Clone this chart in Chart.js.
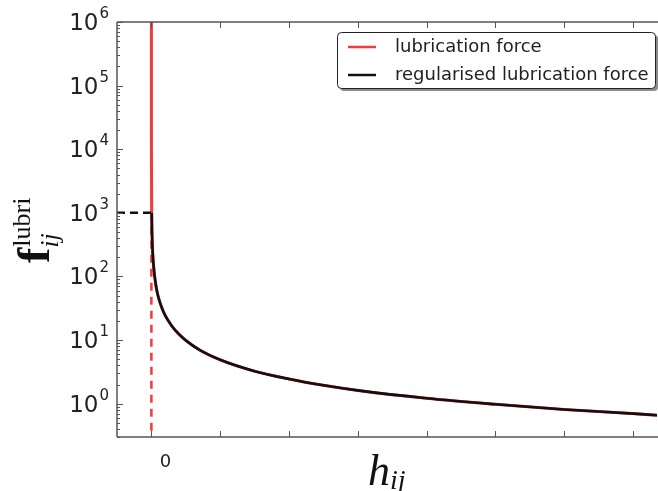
<!DOCTYPE html>
<html>
<head>
<meta charset="utf-8">
<script src="https://cdn.jsdelivr.net/npm/chart.js@4.4.0/dist/chart.umd.min.js"></script>
<style>
  html, body { margin: 0; padding: 0; background: #fff; }
</style>
</head>
<body>
<canvas id="myChart" width="658" height="491"></canvas>
<script>
// gap h (one unit per x tick) and lubrication force along the curve
const gapH = [0.0046, 0.01, 0.02, 0.04, 0.07, 0.1, 0.15, 0.2, 0.3, 0.4, 0.5, 0.7, 1, 1.5, 2, 2.5, 3, 4, 5, 6, 7, 7.35];
const forceF = [1000, 430, 225, 118, 68, 48, 32.5, 24.5, 16.5, 12.4, 9.9, 7.0, 4.9, 3.25, 2.45, 1.95, 1.62, 1.22, 0.98, 0.81, 0.70, 0.66];
// unregularised branch above the cap
const steepH = [0.000005, 0.00005, 0.0005];
const steepF = [1000000, 100000, 10000];
const capF = 1000;

const xTicks = [0, 1, 2, 3, 4, 5, 6, 7];
const xTickLabels = ['0', '', '', '', '', '', '', ''];
const yDecades = [0, 1, 2, 3, 4, 5, 6];
const xRange = [-0.5, 7.35];
const yRange = [0.3, 1e6];

const RED = '#ef3b3b';
const BLACK = '#111111';
const AXIS = '#555555';

function pts(xs, ys) {
    return xs.map((x, i) => ({ x: x, y: ys[i] }));
}

const redLine = pts(steepH, steepF).concat(pts(gapH, forceF));
const blackLine = pts(gapH, forceF);

const datasets = [
    {
        label: 'lubrication force',
        data: redLine,
        borderColor: RED,
        borderWidth: 3,
        cubicInterpolationMode: 'monotone',
        order: 3,
        inLegend: true
    },
    {
        label: 'regularised lubrication force',
        data: blackLine,
        borderColor: BLACK,
        borderWidth: 2.6,
        cubicInterpolationMode: 'monotone',
        order: 1,
        inLegend: true
    },
    {
        label: 'cap',
        data: [{ x: xRange[0], y: capF }, { x: 0, y: capF }],
        borderColor: BLACK,
        borderWidth: 2.5,
        borderDash: [8, 5],
        order: 2
    },
    {
        label: 'contact',
        data: [{ x: 0, y: capF }, { x: 0, y: yRange[0] }],
        borderColor: RED,
        borderWidth: 2.5,
        borderDash: [8, 6],
        order: 2
    }
];

// spines, inward ticks, log labels, axis titles and boxed legend
const framePlugin = {
    id: 'frame',
    afterDatasetsDraw(chart) {
        const c = chart.ctx;
        const a = chart.chartArea;
        const sx = chart.scales.x;
        const sy = chart.scales.y;
        c.save();
        c.strokeStyle = AXIS;
        c.lineWidth = 1.5;
        c.beginPath();
        c.moveTo(a.left, a.top); c.lineTo(a.right + 2, a.top);
        c.moveTo(a.left, a.top); c.lineTo(a.left, a.bottom);
        c.moveTo(a.left, a.bottom); c.lineTo(a.right + 2, a.bottom);
        c.stroke();

        c.lineWidth = 1;
        c.beginPath();
        xTicks.forEach(v => {
            const px = Math.round(sx.getPixelForValue(v)) + 0.5;
            c.moveTo(px, a.bottom); c.lineTo(px, a.bottom - 6);
            c.moveTo(px, a.top); c.lineTo(px, a.top + 6);
        });
        for (let e = -1; e <= 6; e++) {
            for (let m = 1; m <= 9; m++) {
                const v = m * Math.pow(10, e);
                if (v < yRange[0] - 1e-9 || v > yRange[1] + 1e-9) continue;
                const py = Math.round(sy.getPixelForValue(v)) + 0.5;
                c.moveTo(a.left, py); c.lineTo(a.left + (m === 1 ? 6 : 3), py);
            }
        }
        c.stroke();

        // y tick labels 10^n
        c.fillStyle = '#222';
        c.textBaseline = 'alphabetic';
        yDecades.forEach(e => {
            const py = sy.getPixelForValue(Math.pow(10, e));
            const sup = String(e);
            c.font = '15px "DejaVu Sans"';
            const supW = c.measureText(sup).width;
            c.textAlign = 'right';
            c.fillText(sup, a.left - 8, py - 4);
            c.font = '23px "DejaVu Sans"';
            c.fillText('10', a.left - 8 - supW - 1, py + 8);
        });

        // y title f_ij^lubri
        c.save();
        c.translate(49, 263);
        c.rotate(-Math.PI / 2);
        c.textAlign = 'left';
        c.fillStyle = '#111';
        c.font = 'bold 46px "Liberation Serif"';
        c.fillText('f', 0, 0);
        const fW = c.measureText('f').width;
        c.font = '26px "Liberation Serif"';
        c.fillText('lubri', fW + 1, -19);
        c.font = 'italic 26px "Liberation Serif"';
        c.fillText('ij', fW, 9);
        c.restore();

        // x title h_ij
        c.textAlign = 'left';
        c.fillStyle = '#111';
        c.font = 'italic 44px "Liberation Serif"';
        c.fillText('h', 368, 485);
        const hW = c.measureText('h').width;
        c.font = 'italic 28px "Liberation Serif"';
        c.fillText('ij', 368 + hW, 489);

        // legend
        const lx = 337, ly = 32, lw = 318, lh = 56;
        c.fillStyle = 'rgba(0,0,0,0.45)';
        c.beginPath();
        c.roundRect(lx + 3, ly + 3, lw, lh, 4);
        c.fill();
        c.fillStyle = '#fff';
        c.strokeStyle = '#222';
        c.lineWidth = 1;
        c.beginPath();
        c.roundRect(lx + 0.5, ly + 0.5, lw, lh, 4);
        c.fill();
        c.stroke();
        c.font = '18px "DejaVu Sans"';
        c.textBaseline = 'middle';
        chart.data.datasets.filter(d => d.inLegend).forEach((d, i) => {
            const yy = ly + 15 + i * 28;
            c.strokeStyle = d.borderColor;
            c.lineWidth = 2.5;
            c.beginPath();
            c.moveTo(348, yy); c.lineTo(376, yy);
            c.stroke();
            c.fillStyle = '#222';
            c.fillText(d.label, 395, yy);
        });
        c.restore();
    }
};

const ctx = document.getElementById('myChart').getContext('2d');

const myChart = new Chart(ctx, {
    type: 'line',
    data: { datasets: datasets },
    options: {
        responsive: false,
        animation: false,
        layout: { padding: { top: 22, right: 1, left: 0, bottom: 0 } },
        elements: { point: { radius: 0 }, line: { tension: 0 } },
        plugins: { legend: { display: false }, tooltip: { enabled: false } },
        scales: {
            x: {
                type: 'linear',
                min: xRange[0],
                max: xRange[1],
                grid: { display: false, drawTicks: false },
                border: { display: false },
                afterBuildTicks: s => { s.ticks = xTicks.map(v => ({ value: v })); },
                afterFit: s => { s.height = 54; },
                ticks: {
                    autoSkip: false,
                    maxRotation: 0,
                    labelOffset: 14,
                    padding: 15,
                    color: '#222',
                    font: { family: 'DejaVu Sans', size: 18 },
                    callback: v => xTickLabels[xTicks.indexOf(v)] || ''
                }
            },
            y: {
                type: 'logarithmic',
                min: yRange[0],
                max: yRange[1],
                grid: { display: false, drawTicks: false },
                border: { display: false },
                ticks: { display: false },
                afterBuildTicks: s => { s.ticks = yDecades.map(e => ({ value: Math.pow(10, e) })); },
                afterFit: s => { s.width = 117; }
            }
        }
    },
    plugins: [framePlugin]
});
</script>
</body>
</html>
